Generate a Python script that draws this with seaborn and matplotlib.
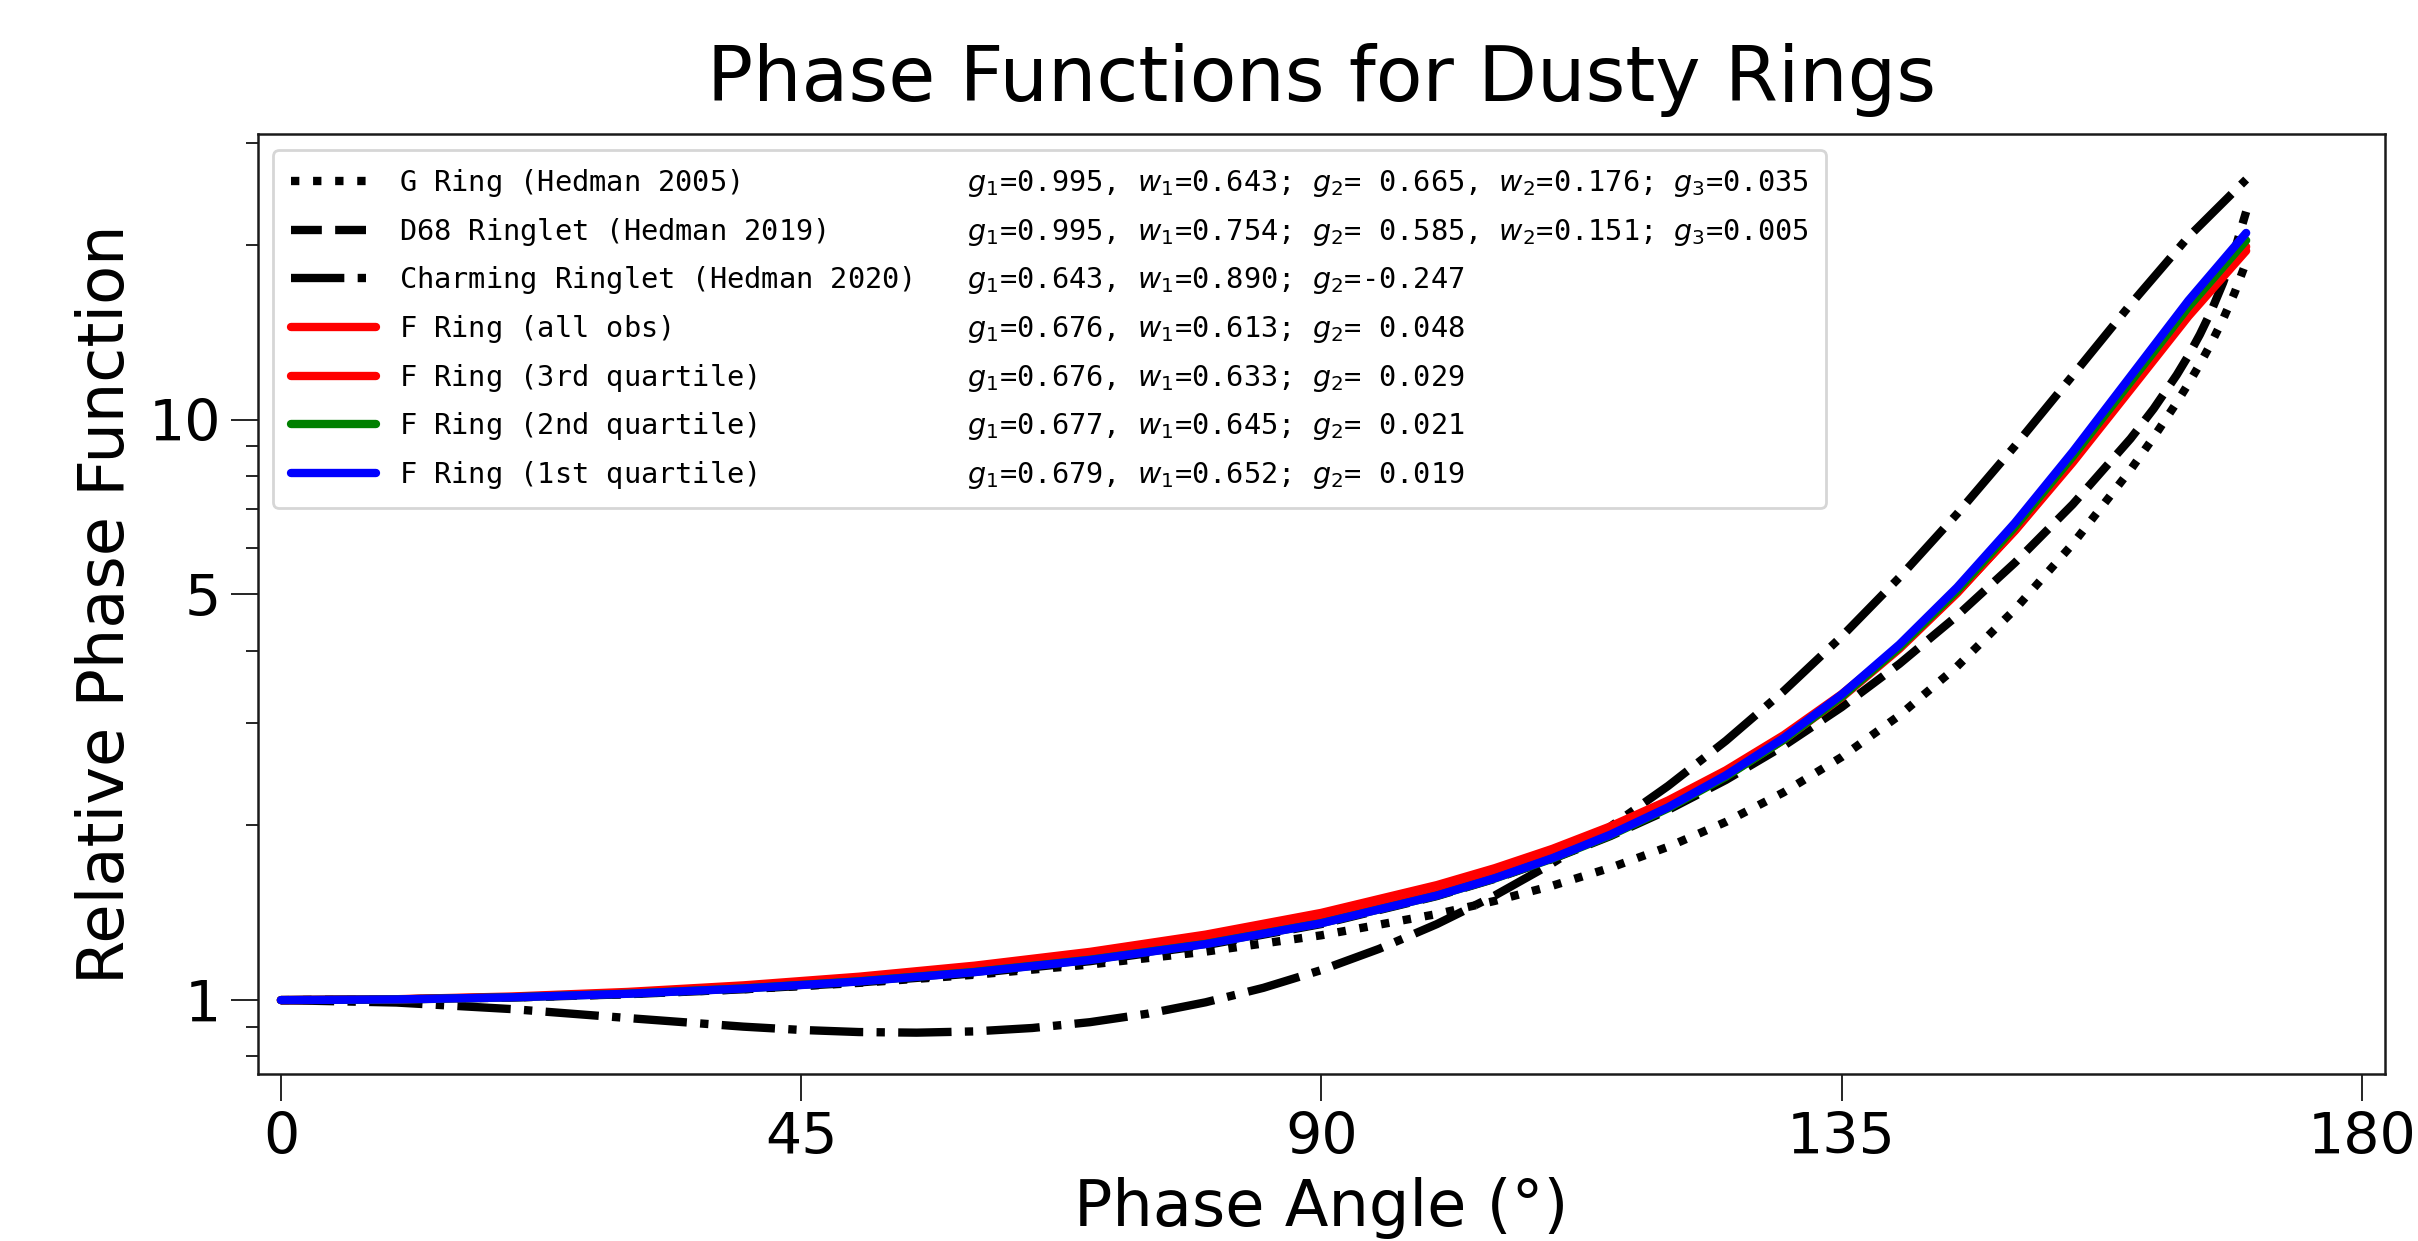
import matplotlib
matplotlib.use("Agg")
import matplotlib.pyplot as plt
import seaborn as sns
from matplotlib.ticker import FixedLocator, NullFormatter

# ---------------- data ----------------
ang_f = [0, 10, 20, 30, 40, 50, 60, 70, 80, 90, 100, 105, 110, 115, 120,
         125, 130, 135, 140, 145, 150, 155, 160, 165, 170]

f_all = [1.000, 1.0036, 1.0144, 1.0330, 1.0602, 1.0972, 1.1463, 1.2109, 1.2967,
         1.4134, 1.5781, 1.6874, 1.8222, 1.9914, 2.2072, 2.4880, 2.8602, 3.3638,
         4.0594, 5.0378, 6.4342, 8.4367, 11.267, 15.058, 19.53]
f_q3 = [1.000, 1.0030, 1.0121, 1.0279, 1.0510, 1.0830, 1.1261, 1.1839, 1.2623,
        1.3714, 1.5290, 1.6352, 1.7676, 1.9351, 2.1505, 2.4325, 2.8083, 3.3190,
        4.0265, 5.0241, 6.4500, 8.4971, 11.392, 15.272, 19.849]
f_q2 = [1.000, 1.0028, 1.0113, 1.0258, 1.0474, 1.0775, 1.1183, 1.1738, 1.2499,
        1.3571, 1.5136, 1.6199, 1.7529, 1.9219, 2.1399, 2.4260, 2.8084, 3.3291,
        4.0517, 5.0723, 6.5337, 8.6357, 11.614, 15.617, 20.352]
f_q1 = [1.000, 1.0027, 1.0110, 1.0254, 1.0468, 1.0766, 1.1172, 1.1725, 1.2487,
        1.3564, 1.5142, 1.6216, 1.7562, 1.9274, 2.1486, 2.4394, 2.8284, 3.3590,
        4.0965, 5.1403, 6.6385, 8.7997, 11.874, 16.025, 20.962]

ang_gd = [0, 10, 20, 30, 40, 50, 60, 70, 80, 90, 100, 105, 110, 115, 120, 125,
          130, 135, 140, 145, 150, 155, 160, 162, 164, 165, 166, 167, 168, 169, 170]
g_ring = [1.000, 1.0026, 1.0106, 1.0242, 1.0440, 1.0707, 1.1058, 1.1517, 1.2120,
          1.2932, 1.4069, 1.4820, 1.5744, 1.6899, 1.8369, 2.0277, 2.2802, 2.6215,
          3.0925, 3.7563, 4.7103, 6.1063, 8.1941, 9.3218, 10.703, 11.524, 12.464,
          13.564, 14.886, 16.531, 18.671]
d68 = [1.000, 1.0025, 1.0102, 1.0236, 1.0438, 1.0724, 1.1121, 1.1669, 1.2434,
       1.3521, 1.5108, 1.6178, 1.7504, 1.9163, 2.1261, 2.3945, 2.7415, 3.1950,
       3.7939, 4.5926, 5.6685, 7.1436, 9.2694, 10.439, 11.939, 12.881, 14.012,
       15.410, 17.193, 19.552, 22.805]

ang_c = [0, 10, 20, 30, 40, 45, 50, 55, 60, 65, 70, 75, 80, 85, 90, 95, 100,
         105, 110, 115, 120, 125, 130, 135, 140, 145, 150, 155, 160, 165, 170]
charming = [1.000, 0.9904, 0.9649, 0.9314, 0.9001, 0.8884, 0.8810, 0.8789,
            0.8833, 0.8953, 0.9163, 0.9477, 0.9915, 1.0501, 1.1266, 1.2254,
            1.3519, 1.5138, 1.7216, 1.9897, 2.3385, 2.7970, 3.4067, 4.2272,
            5.3449, 6.8817, 9.0038, 11.913, 15.792, 20.631, 25.908]

names = ["G Ring (Hedman 2005)", "D68 Ringlet (Hedman 2019)",
         "Charming Ringlet (Hedman 2020)", "F Ring (all obs)",
         "F Ring (3rd quartile)", "F Ring (2nd quartile)", "F Ring (1st quartile)"]
params = [r"$g_1$=0.995, $w_1$=0.643; $g_2$= 0.665, $w_2$=0.176; $g_3$=0.035",
          r"$g_1$=0.995, $w_1$=0.754; $g_2$= 0.585, $w_2$=0.151; $g_3$=0.005",
          r"$g_1$=0.643, $w_1$=0.890; $g_2$=-0.247",
          r"$g_1$=0.676, $w_1$=0.613; $g_2$= 0.048",
          r"$g_1$=0.676, $w_1$=0.633; $g_2$= 0.029",
          r"$g_1$=0.677, $w_1$=0.645; $g_2$= 0.021",
          r"$g_1$=0.679, $w_1$=0.652; $g_2$= 0.019"]

# ---------------- plotting ----------------
sns.set_style("white")
plt.rcParams['font.family'] = ['DejaVu Sans']
plt.rcParams['mathtext.fontset'] = 'dejavusans'
plt.rcParams['text.color'] = 'black'
plt.rcParams['axes.labelcolor'] = 'black'
plt.rcParams['xtick.color'] = 'black'
plt.rcParams['ytick.color'] = 'black'
plt.rcParams['axes.edgecolor'] = 'black'

fig = plt.figure(figsize=(12.09, 6.205), dpi=200)
ax = fig.add_axes([0.1066, 0.1343, 0.8797, 0.7575])
ax.set_yscale('log')

series = [
    (ang_gd, g_ring, 'black', ':'),
    (ang_gd, d68, 'black', '--'),
    (ang_c, charming, 'black', '-.'),
    (ang_f, f_all, 'red', '-'),
    (ang_f, f_q3, 'red', '-'),
    (ang_f, f_q2, 'green', '-'),
    (ang_f, f_q1, 'blue', '-'),
]
for (xs, ys, col, ls), nm, pr in zip(series, names, params):
    label = f"{nm:<33}" + pr
    sns.lineplot(x=xs, y=ys, ax=ax, color=col, linestyle=ls, linewidth=3,
                 label=label, sort=False)

ax.set_xlim(-2, 182)
ax.set_ylim(0.745, 31.0)
ax.set_xticks([0, 45, 90, 135, 180])
ax.set_xticklabels(['0', '45', '90', '135', '180'])
ax.set_yticks([1, 5, 10])
ax.set_yticklabels(['1', '5', '10'])
ax.yaxis.set_minor_locator(FixedLocator([0.8, 0.9, 2, 3, 4, 6, 7, 8, 9, 20, 30]))
ax.yaxis.set_minor_formatter(NullFormatter())
ax.xaxis.set_minor_locator(FixedLocator([]))

ax.tick_params(axis='both', which='major', length=9.7, width=0.6,
               labelsize=20.5, color='black', labelcolor='black',
               direction='out', bottom=True, left=True)
ax.tick_params(axis='y', which='minor', length=4.5, width=0.6,
               color='black', direction='out', left=True)
for sp in ax.spines.values():
    sp.set_visible(True)
    sp.set_color('#1a1a1a')
    sp.set_linewidth(0.9)

ax.set_title("Phase Functions for Dusty Rings", fontsize=27.5, pad=12,
             color='black')
ax.set_xlabel("Phase Angle (°)", fontsize=23, color='black')
ax.set_ylabel("Relative Phase Function", fontsize=23, color='black')

leg = ax.legend(loc='upper left', prop={'family': 'DejaVu Sans Mono', 'size': 10.3},
                handlelength=3.0, labelspacing=0.58, borderpad=0.6,
                borderaxespad=0.55, frameon=True, fancybox=True,
                framealpha=0.8, edgecolor='0.8')
for t in leg.get_texts():
    t.set_color('black')

fig.savefig("out.png", dpi=200, facecolor='white')
